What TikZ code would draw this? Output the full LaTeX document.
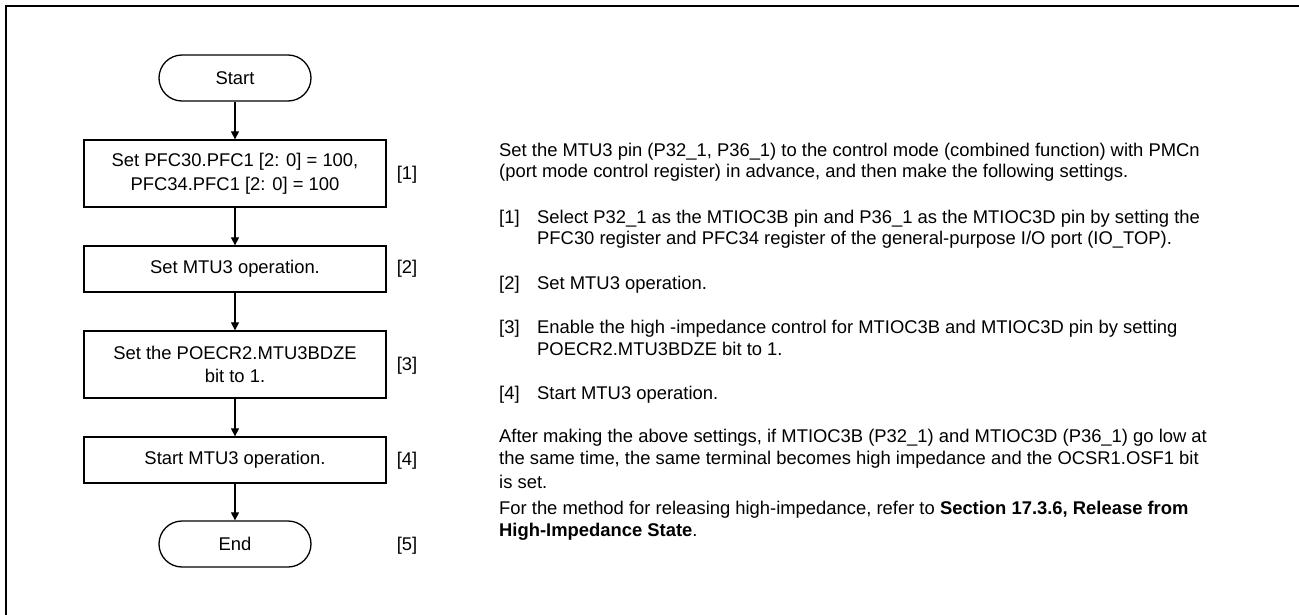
\documentclass[tikz,border=0pt]{standalone}
\usepackage{fontspec}
\setmainfont{Liberation Sans}
\usetikzlibrary{arrows.meta}
\begin{document}
\begin{tikzpicture}[x=1pt,y=-1pt,
  every node/.style={font=\fontsize{18.4}{23.5}\selectfont, inner sep=0pt},
  proc/.style={draw, line width=1.3pt, minimum width=302pt, align=center},
  term/.style={draw, line width=1.3pt, minimum width=152pt, minimum height=46pt, rounded corners=23pt},
  flow/.style={line width=1.2pt, -{Triangle[length=8pt,width=8pt]}},
  txt/.style={anchor=base west},
  lbl/.style={anchor=center}]
\useasboundingbox (0,0) rectangle (1299,615);
% frame (top and left edges)
\draw[line width=2.4pt] (1299,6) -- (6,6) -- (6,615);
% flowchart
\node[term] (start) at (235,78) {Start};
\node[proc, minimum height=67pt] (b1) at (235,173.5) {Set PFC30.PFC1 [2: 0] = 100,\\PFC34.PFC1 [2: 0] = 100};
\node[proc, minimum height=46pt] (b2) at (235,269) {Set MTU3 operation.};
\node[proc, minimum height=67pt] (b3) at (235,364.5) {Set the POECR2.MTU3BDZE\\bit to 1.};
\node[proc, minimum height=46pt] (b4) at (235,460) {Start MTU3 operation.};
\node[term] (end) at (235,544) {End};
\draw[flow] (start) -- (b1);
\draw[flow] (b1) -- (b2);
\draw[flow] (b2) -- (b3);
\draw[flow] (b3) -- (b4);
\draw[flow] (b4) -- (end);
\node[lbl] (l1) at (407,175) {[1]};
\node[lbl] (l2) at (407,269) {[2]};
\node[lbl] (l3) at (407,366) {[3]};
\node[lbl] (l4) at (407,461) {[4]};
\node[lbl] (l5) at (407,546) {[5]};
% description
\node[txt] (t1) at (499,157) {Set the MTU3 pin (P32\_1, P36\_1) to the control mode (combined function) with PMCn};
\node[txt] (t2) at (499,178) {(port mode control register) in advance, and then make the following settings.};
\node[txt] (n1) at (499,223) {[1]};
\node[txt] (t3) at (537,223) {Select P32\_1 as the MTIOC3B pin and P36\_1 as the MTIOC3D pin by setting the};
\node[txt] (t4) at (537,244.5) {PFC30 register and PFC34 register of the general-purpose I/O port (IO\_TOP).};
\node[txt] (n2) at (499,289) {[2]};
\node[txt] (t5) at (537,289) {Set MTU3 operation.};
\node[txt] (n3) at (499,333.5) {[3]};
\node[txt] (t6) at (537,333.5) {Enable the high -impedance control for MTIOC3B and MTIOC3D pin by setting};
\node[txt] (t7) at (537,355.5) {POECR2.MTU3BDZE bit to 1.};
\node[txt] (n4) at (499,399) {[4]};
\node[txt] (t8) at (537,399) {Start MTU3 operation.};
\node[txt] (t9) at (499,442.5) {After making the above settings, if MTIOC3B (P32\_1) and MTIOC3D (P36\_1) go low at};
\node[txt] (t10) at (499,464.5) {the same time, the same terminal becomes high impedance and the OCSR1.OSF1 bit};
\node[txt] (t11) at (499,488) {is set.};
\node[txt] (t12) at (499,514.5) {For the method for releasing high-impedance, refer to \textbf{Section 17.3.6, Release from}};
\node[txt] (t13) at (499,536.5) {\textbf{High-Impedance State}.};
\end{tikzpicture}
\end{document}
